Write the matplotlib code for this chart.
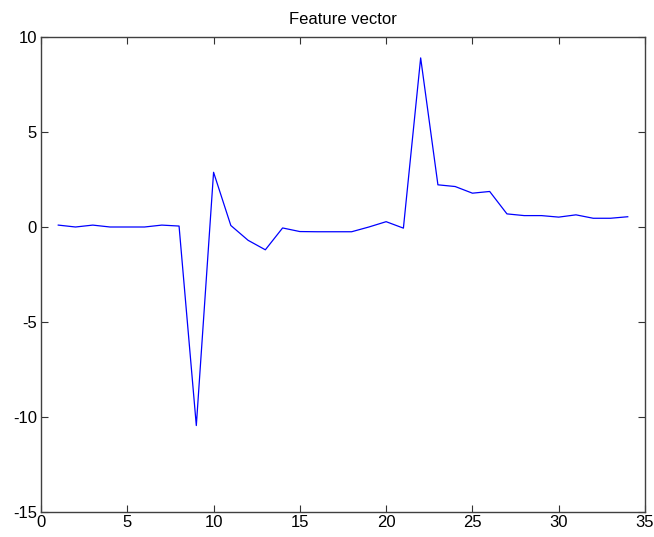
import matplotlib
matplotlib.use("Agg")
import matplotlib.pyplot as plt

plt.rcParams['font.family'] = ['Liberation Sans', 'DejaVu Sans']

index = list(range(1, 35))
values = [0.1, 0.0, 0.1, 0.0, 0.0, 0.0, 0.1, 0.05, -10.45, 2.88,
          0.08, -0.7, -1.2, -0.05, -0.24, -0.25, -0.25, -0.25, 0.0, 0.28,
          -0.06, 8.9, 2.22, 2.13, 1.78, 1.87, 0.69, 0.6, 0.6, 0.52,
          0.64, 0.46, 0.46, 0.54]
xticks = [0, 5, 10, 15, 20, 25, 30, 35]
yticks = [-15, -10, -5, 0, 5, 10]

fig = plt.figure(figsize=(6.54, 5.37), dpi=100)
ax = fig.add_axes([41/654, 25/537, 604/654, 475/537])
ax.plot(index, values, color=(0, 0, 1), linewidth=0.9)
ax.set_xlim(0, 35)
ax.set_ylim(-15, 10)
ax.set_xticks(xticks)
ax.set_yticks(yticks)
ax.set_xticklabels([str(t) for t in xticks])
ax.set_yticklabels([str(t) for t in yticks])
ax.tick_params(direction='in', length=5, width=0.8, top=True, right=True,
               labelsize=12, colors='#333333', labelcolor='black')
ax.tick_params(axis='x', pad=2)
ax.tick_params(axis='y', pad=3)
for s in ax.spines.values():
    s.set_color('#404040')
    s.set_linewidth(1.0)
ax.set_title('Feature vector', fontsize=12, pad=9)
fig.savefig('out.png', dpi=100)
